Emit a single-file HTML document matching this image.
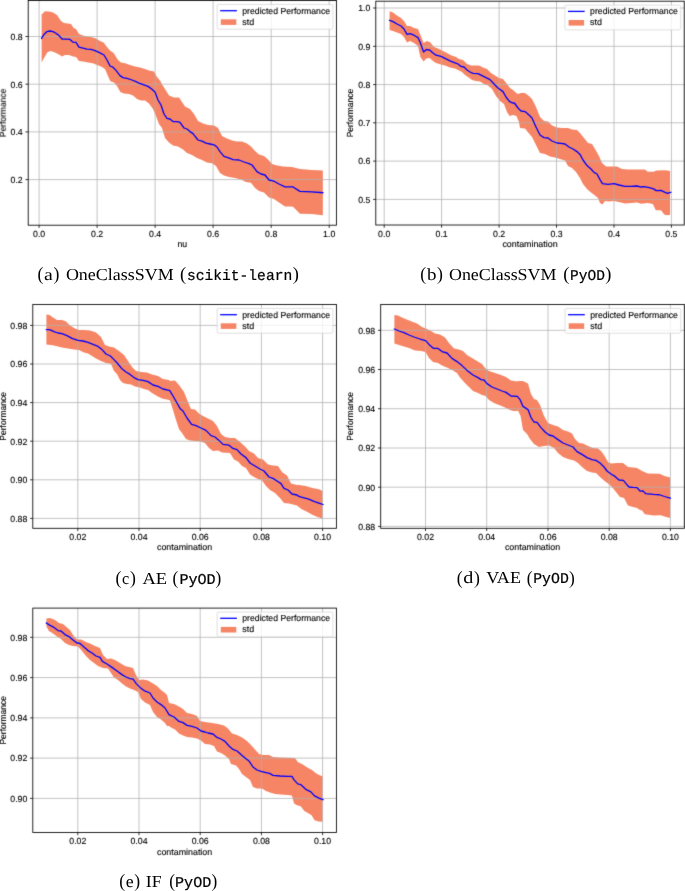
<!DOCTYPE html>
<html><head><meta charset="utf-8"><title>figure</title>
<style>html,body{margin:0;padding:0;background:#fff;}body{width:685px;height:891px;overflow:hidden;}svg{display:block;will-change:transform;}text{fill:#000;text-rendering:geometricPrecision;}.s text{stroke:#000;stroke-width:0.12px;}.c .m{stroke:#000;stroke-width:0.22px;}</style>
</head><body>
<svg width="685" height="891" viewBox="0 0 685 891">
<defs><filter id="bl" x="0" y="0" width="685" height="891" filterUnits="userSpaceOnUse" color-interpolation-filters="sRGB"><feConvolveMatrix order="3" kernelMatrix="0.01134 0.08382 0.01134 0.08382 0.61935 0.08382 0.01134 0.08382 0.01134" divisor="1" edgeMode="duplicate" preserveAlpha="true"/></filter></defs>
<g filter="url(#bl)">
<rect x="0" y="0" width="685" height="891" fill="#fff"/>
<g id="panel-a" class="s">
<path d="M41.6 14.4L45 11.2L49 11.6L53 12.4L57 15L61 21L64 23L68 23.4L71 24L73.6 28L76 29L79 34L83 35.6L87 36.4L92 37.2L96 38.4L100 41L103.6 42.4L107 47L110 50.4L113.6 53L118 60L121 62.4L126 63.6L130 65L135 66.6L140 67.6L145 69L149 70.4L154 71.4L157 77L160 80.4L162.4 85L165 89L169 95.6L174 97.6L179 97.6L182 102L185 106.4L190 109L194 114L198 121L203 123.6L208 125L214 125.6L218 128L222 136L227 138.4L232 140.4L237 141.6L242 141.6L247 143.6L251 146.4L255 151L259 154.4L264 156L268 159.6L272 164L277 165.6L283 166.4L292 167L299.93 169.05L311.61 169.93L322.85 170.51L322.85 215.18L311.61 214.01L299.93 213.72L293.36 207.01L292 206.4L285 206.4L279 202.4L274 199L269 197.6L264 192.4L259 191L255 188L251 182.8L246 182L241 179.6L235 178L229 177L224 175.6L220 173L216 166L212 163.2L207 162.4L202 160L197 158L192 155L187 153L183 149.6L178 146.6L173 145.6L169 142.4L165 138L162 128L159 124L156 116L153 109L149 103.6L145 100.4L141 100.4L137 99L133 95.6L129 94L124 93.4L120.4 92L117 86L114 82.4L110.4 81.2L108 76L105 69L101 66.6L97 65L93 63.2L88 62.4L83 61.6L79 61L76 57L73 56.4L69 55L65 55L62 56.4L59 54.4L55 52.4L51 51L47.6 52L44 58L41.6 62.4Z" fill="#f58565" stroke="none"/>
<path d="M39.1 0.5V225.2M97.1 0.5V225.2M155.1 0.5V225.2M213.1 0.5V225.2M271.2 0.5V225.2M329.2 0.5V225.2M28.2 36.5H336.4M28.2 84.2H336.4M28.2 131.9H336.4M28.2 179.6H336.4" stroke="#b0b0b0" stroke-width="0.75" fill="none"/>
<path d="M41.6 38.4L44 34.4L47 31.6L50 31L53 31.6L56 33.2L59 35.6L62 39L66 39.2L70 39.4L73 42.2L76 42.4L79 47.2L83 48.2L87 49.2L91 49.4L95 50.6L99 52.4L104 55L107 60L110 66L113 67.2L116 70.4L120 75.6L123 77.6L127 78.4L132 80L136 81.6L139 83.2L144 84.8L148 86.4L152 89.2L155 92L158 100L161 105L164 114L167 118.4L170 119L173 121.6L177 121.6L180 122.4L184 128L187 129L190 131.6L193 133.6L198 140L202 141.2L206 143.2L210 144L214 144.8L217 147L220 151.6L224 156.4L228 157.6L233 159.6L239 160L244 162L249 163.6L252 165L257 171.6L261 174L265 175L269 180L274 181.2L279 184L285 186.8L292 186.8L292.64 186.72L299.93 191.39L311.61 191.82L322.85 192.7" fill="none" stroke="#0000ff" stroke-width="1.3" stroke-linejoin="round" stroke-linecap="square"/>
<path d="M39.1 225.2v2.7M97.1 225.2v2.7M155.1 225.2v2.7M213.1 225.2v2.7M271.2 225.2v2.7M329.2 225.2v2.7M28.2 36.5h-2.7M28.2 84.2h-2.7M28.2 131.9h-2.7M28.2 179.6h-2.7" stroke="#000" stroke-width="0.8" fill="none"/>
<rect x="28.2" y="0.5" width="308.2" height="224.7" fill="none" stroke="#000" stroke-width="0.85"/>
<text x="39.1" y="236.8" font-size="8.8" font-family='"Liberation Sans", sans-serif' text-anchor="middle" textLength="12.16" lengthAdjust="spacingAndGlyphs">0.0</text>
<text x="97.1" y="236.8" font-size="8.8" font-family='"Liberation Sans", sans-serif' text-anchor="middle" textLength="12.16" lengthAdjust="spacingAndGlyphs">0.2</text>
<text x="155.1" y="236.8" font-size="8.8" font-family='"Liberation Sans", sans-serif' text-anchor="middle" textLength="12.16" lengthAdjust="spacingAndGlyphs">0.4</text>
<text x="213.1" y="236.8" font-size="8.8" font-family='"Liberation Sans", sans-serif' text-anchor="middle" textLength="12.16" lengthAdjust="spacingAndGlyphs">0.6</text>
<text x="271.2" y="236.8" font-size="8.8" font-family='"Liberation Sans", sans-serif' text-anchor="middle" textLength="12.16" lengthAdjust="spacingAndGlyphs">0.8</text>
<text x="329.2" y="236.8" font-size="8.8" font-family='"Liberation Sans", sans-serif' text-anchor="middle" textLength="12.16" lengthAdjust="spacingAndGlyphs">1.0</text>
<text x="22.7" y="39.8" font-size="8.8" font-family='"Liberation Sans", sans-serif' text-anchor="end" textLength="12.16" lengthAdjust="spacingAndGlyphs">0.8</text>
<text x="22.7" y="87.5" font-size="8.8" font-family='"Liberation Sans", sans-serif' text-anchor="end" textLength="12.16" lengthAdjust="spacingAndGlyphs">0.6</text>
<text x="22.7" y="135.2" font-size="8.8" font-family='"Liberation Sans", sans-serif' text-anchor="end" textLength="12.16" lengthAdjust="spacingAndGlyphs">0.4</text>
<text x="22.7" y="182.9" font-size="8.8" font-family='"Liberation Sans", sans-serif' text-anchor="end" textLength="12.16" lengthAdjust="spacingAndGlyphs">0.2</text>
<text x="182.3" y="247.3" font-size="8.8" font-family='"Liberation Sans", sans-serif' text-anchor="middle" textLength="9.7" lengthAdjust="spacingAndGlyphs">nu</text>
<text transform="translate(5.8 112.85) rotate(-90)" font-size="8.8" font-family='"Liberation Sans", sans-serif' text-anchor="middle" textLength="48.48" lengthAdjust="spacingAndGlyphs">Performance</text>
<rect x="217.1" y="4.4" width="115.8" height="24.8" rx="1.6" ry="1.6" fill="#fff" fill-opacity="0.8" stroke="#ccc" stroke-opacity="0.8" stroke-width="0.8"/>
<path d="M220.2 10.7h16.7" stroke="#0000ff" stroke-width="1.3" fill="none"/>
<rect x="220.8" y="19.3" width="15.5" height="5.6" fill="#f58565"/>
<text x="242.3" y="13.7" font-size="8.8" font-family='"Liberation Sans", sans-serif' text-anchor="start" textLength="87.77" lengthAdjust="spacingAndGlyphs">predicted Performance</text>
<text x="242.3" y="24.6" font-size="8.8" font-family='"Liberation Sans", sans-serif' text-anchor="start" textLength="11.92" lengthAdjust="spacingAndGlyphs">std</text>
</g>
<g id="panel-b" class="s">
<path d="M389.6 11.2L393 12.4L397 15.6L401 18L404 21L407 26L410 26L414 28L418 29L420.4 35L423.6 43L427 41L430.4 42.4L434 47L438 48.4L442 50.4L446 52.4L451 55.2L456 57L459 59L463 60L467 64L471 65.6L475 65.6L479 65.6L483 67.6L487 69L491 73L495 75.6L499 78L503 79L507 84L510 88L513 90L514 91L517.6 94L521 93L525 93L529 96L532 99L536 107L540 117L544 121L548 121.4L552 125.6L557 127.6L562 128L568 128L572 129.6L577 130L580 133L584 138L588 143L592 144L595.6 150L599 156L602 163L606 166.4L612 166.4L617 166.4L622 169L628 169.6L637 169.6L644.85 169.49L647.77 171.68L653.61 171.68L656.53 170.51L665.29 170.22L670.11 170.95L670.11 214.74L667.48 215.18L664.56 214.74L660.91 210.36L655.8 210.36L652.88 204.09L647.77 203.07L641.2 203.8L637 202.4L631 203L625 203.6L619 202L614 201L609 201.6L605 201L602.4 204.4L600 203L598 198L595 195.6L591 192.4L587 189L583 184L580 178L576 172L572 168L568 166L565 160.4L560 159L555 157.6L550 156.4L545 154L540 153L536 145L532 137L529 133.6L525 128.4L520 128L519 122L516.4 116L513 115L509.6 116L507 112L504 104L500 101L496 96L492 89L488 85.6L484 84L480 81.6L476 81L472 80L468 77L465 75L462 72L458 70L455 68.4L450 67.6L445 65.6L441 64.4L436 63L433 61L429.6 58L426.4 58.4L423.6 61.6L420.4 57L418 46L414 43L410 41L407 42.4L404 37L401 34L397 32.4L393 31L389.6 30Z" fill="#f58565" stroke="none"/>
<path d="M384.2 1.2V225M441.6 1.2V225M499.1 1.2V225M556.5 1.2V225M614 1.2V225M671.4 1.2V225M375.8 8H684.2M375.8 46.3H684.2M375.8 84.6H684.2M375.8 122.8H684.2M375.8 161.1H684.2M375.8 199.4H684.2" stroke="#b0b0b0" stroke-width="0.75" fill="none"/>
<path d="M389.6 20.4L393 21.6L397 24L401 26L404 29L407 34.4L410 33.6L414 35.2L418 37.6L420.4 43L423.6 52L426.4 49.6L429.6 50L433 53L436 55.2L441 56.4L445 58.4L450 60.8L455 62.8L458 64L461 66.4L464 67L467 70L470 72L473 73.4L478 73.6L482 75.6L486 77.6L490 79.6L494 84L498 88L503 91.6L506 97L509.6 101.6L513 103.2L514.4 103L518 108L521 111L525 111.6L529 115L532 118L536 127L540 135L544 137.6L548 138L552 141L557 143L561 143.4L565 144L569 147L573 149L577 151.6L580 154.4L583 160L587 165.6L591 169L594 172.4L597 174L600 179.6L602.4 183.6L608 184.4L614 183.6L619 185L625 186.4L631 186.4L637 186L641.2 187.01L644.12 186.57L649.23 187.74L653.61 188.91L656.24 190.66L660.91 190.36L664.56 192.12L667.48 193.28L670.69 192.41" fill="none" stroke="#0000ff" stroke-width="1.3" stroke-linejoin="round" stroke-linecap="square"/>
<path d="M384.2 225v2.7M441.6 225v2.7M499.1 225v2.7M556.5 225v2.7M614 225v2.7M671.4 225v2.7M375.8 8h-2.7M375.8 46.3h-2.7M375.8 84.6h-2.7M375.8 122.8h-2.7M375.8 161.1h-2.7M375.8 199.4h-2.7" stroke="#000" stroke-width="0.8" fill="none"/>
<rect x="375.8" y="1.2" width="308.4" height="223.8" fill="none" stroke="#000" stroke-width="0.85"/>
<text x="384.2" y="236.6" font-size="8.8" font-family='"Liberation Sans", sans-serif' text-anchor="middle" textLength="12.16" lengthAdjust="spacingAndGlyphs">0.0</text>
<text x="441.6" y="236.6" font-size="8.8" font-family='"Liberation Sans", sans-serif' text-anchor="middle" textLength="12.16" lengthAdjust="spacingAndGlyphs">0.1</text>
<text x="499.1" y="236.6" font-size="8.8" font-family='"Liberation Sans", sans-serif' text-anchor="middle" textLength="12.16" lengthAdjust="spacingAndGlyphs">0.2</text>
<text x="556.5" y="236.6" font-size="8.8" font-family='"Liberation Sans", sans-serif' text-anchor="middle" textLength="12.16" lengthAdjust="spacingAndGlyphs">0.3</text>
<text x="614" y="236.6" font-size="8.8" font-family='"Liberation Sans", sans-serif' text-anchor="middle" textLength="12.16" lengthAdjust="spacingAndGlyphs">0.4</text>
<text x="671.4" y="236.6" font-size="8.8" font-family='"Liberation Sans", sans-serif' text-anchor="middle" textLength="12.16" lengthAdjust="spacingAndGlyphs">0.5</text>
<text x="370.3" y="11.3" font-size="8.8" font-family='"Liberation Sans", sans-serif' text-anchor="end" textLength="12.16" lengthAdjust="spacingAndGlyphs">1.0</text>
<text x="370.3" y="49.6" font-size="8.8" font-family='"Liberation Sans", sans-serif' text-anchor="end" textLength="12.16" lengthAdjust="spacingAndGlyphs">0.9</text>
<text x="370.3" y="87.9" font-size="8.8" font-family='"Liberation Sans", sans-serif' text-anchor="end" textLength="12.16" lengthAdjust="spacingAndGlyphs">0.8</text>
<text x="370.3" y="126.1" font-size="8.8" font-family='"Liberation Sans", sans-serif' text-anchor="end" textLength="12.16" lengthAdjust="spacingAndGlyphs">0.7</text>
<text x="370.3" y="164.4" font-size="8.8" font-family='"Liberation Sans", sans-serif' text-anchor="end" textLength="12.16" lengthAdjust="spacingAndGlyphs">0.6</text>
<text x="370.3" y="202.7" font-size="8.8" font-family='"Liberation Sans", sans-serif' text-anchor="end" textLength="12.16" lengthAdjust="spacingAndGlyphs">0.5</text>
<text x="530" y="247.1" font-size="8.8" font-family='"Liberation Sans", sans-serif' text-anchor="middle" textLength="55.19" lengthAdjust="spacingAndGlyphs">contamination</text>
<text transform="translate(353.4 113.1) rotate(-90)" font-size="8.8" font-family='"Liberation Sans", sans-serif' text-anchor="middle" textLength="48.48" lengthAdjust="spacingAndGlyphs">Performance</text>
<rect x="564.9" y="5.1" width="115.8" height="24.8" rx="1.6" ry="1.6" fill="#fff" fill-opacity="0.8" stroke="#ccc" stroke-opacity="0.8" stroke-width="0.8"/>
<path d="M568 11.4h16.7" stroke="#0000ff" stroke-width="1.3" fill="none"/>
<rect x="568.6" y="20" width="15.5" height="5.6" fill="#f58565"/>
<text x="590.1" y="14.4" font-size="8.8" font-family='"Liberation Sans", sans-serif' text-anchor="start" textLength="87.77" lengthAdjust="spacingAndGlyphs">predicted Performance</text>
<text x="590.1" y="25.3" font-size="8.8" font-family='"Liberation Sans", sans-serif' text-anchor="start" textLength="11.92" lengthAdjust="spacingAndGlyphs">std</text>
</g>
<g id="panel-c" class="s">
<path d="M46.4 314.4L49.6 315L53 317.6L57 320L62 320L66 321.6L70 325.6L75 328.4L79 330L84 330L90 330.6L96 332.4L101 337L105 345L109 346.4L114 347.6L119 351L124 355L128 361L132 367L136 371L141 372L147 372.4L152 374.4L158 376L163 379L169 380L170 381L175 380.4L179 385L184 392L188 402L191 409L195 409.6L199 413.6L203 416L208 418.4L213 421L217 426L221 434L225 437L230 438L235 438L240 442L245 446.4L249 451L254 453.6L258 458L263 459.6L268 464.4L273 465.6L278 466L282 472L287 475.6L291 483.6L297 485L299.2 485.11L305.77 485.99L312.34 488.03L318.91 489.2L322.56 490.95L322.56 518.39L317.45 516.93L312.34 514.74L306.5 511.39L301.39 508.91L297 505.6L293 504.4L289 503.6L284 503L280 498L275 493L270 490L266 486L262 480.4L258 479L254 477L250 474.4L246 468L242 466L238 461.6L234 459.6L230 453L222 452.4L218 450.4L213 451L209 448L205 443L200 441.6L195 441L190 440.4L186 439L182 433L179 429L176 420L173 410L170 400.4L169 400L162 398.4L157 396L152 393L148 390L144 389L140 387.6L135 386.4L131 384.4L127 384L123 383L120 380L117 374L114 371L111 364L106 363L101 361L96 358.4L92 356L88 353.6L84 352.4L79 350L74 349.6L68 348.4L62 347.6L56 346L51 345L46.4 344.4Z" fill="#f58565" stroke="none"/>
<path d="M77.8 304.5V528.3M139 304.5V528.3M200.2 304.5V528.3M261.4 304.5V528.3M322.6 304.5V528.3M32.8 325.4H336.4M32.8 364H336.4M32.8 402.6H336.4M32.8 441.2H336.4M32.8 479.8H336.4M32.8 518.4H336.4" stroke="#b0b0b0" stroke-width="0.75" fill="none"/>
<path d="M46.4 329.6L49.6 329.6L54 331.6L58 333L62 333.6L67 335.6L72 338.4L78 340.4L83 341L88 342.4L93 344.4L98 346.4L102 349.6L106 354L110.4 356L114 359.6L118 364L121.6 368.4L126 372L130 374.4L134 377.6L138 379.6L143 380.4L148 381.6L153 385L158 386.4L163 389L169 390.4L169.6 390.4L173 396L177 403L180 408.4L183 411L187 418L191.6 424.4L196 425.6L201 428L206 430.4L211 435.6L215 437L219 440.4L223 444.4L229 445.2L233 448.4L237 449.6L241 454L246 457.6L250 463L255 466L260 469L264 471L269 477L273 478.4L277 481L281 483.6L284 488.4L288 490L292 494L297 495L298.47 496.2L301.39 497.23L308.69 499.12L314.53 501.61L318.91 503.07L323 504.53" fill="none" stroke="#0000ff" stroke-width="1.3" stroke-linejoin="round" stroke-linecap="square"/>
<path d="M77.8 528.3v2.7M139 528.3v2.7M200.2 528.3v2.7M261.4 528.3v2.7M322.6 528.3v2.7M32.8 325.4h-2.7M32.8 364h-2.7M32.8 402.6h-2.7M32.8 441.2h-2.7M32.8 479.8h-2.7M32.8 518.4h-2.7" stroke="#000" stroke-width="0.8" fill="none"/>
<rect x="32.8" y="304.5" width="303.6" height="223.8" fill="none" stroke="#000" stroke-width="0.85"/>
<text x="77.8" y="539.9" font-size="8.8" font-family='"Liberation Sans", sans-serif' text-anchor="middle" textLength="17.03" lengthAdjust="spacingAndGlyphs">0.02</text>
<text x="139" y="539.9" font-size="8.8" font-family='"Liberation Sans", sans-serif' text-anchor="middle" textLength="17.03" lengthAdjust="spacingAndGlyphs">0.04</text>
<text x="200.2" y="539.9" font-size="8.8" font-family='"Liberation Sans", sans-serif' text-anchor="middle" textLength="17.03" lengthAdjust="spacingAndGlyphs">0.06</text>
<text x="261.4" y="539.9" font-size="8.8" font-family='"Liberation Sans", sans-serif' text-anchor="middle" textLength="17.03" lengthAdjust="spacingAndGlyphs">0.08</text>
<text x="322.6" y="539.9" font-size="8.8" font-family='"Liberation Sans", sans-serif' text-anchor="middle" textLength="17.03" lengthAdjust="spacingAndGlyphs">0.10</text>
<text x="27.3" y="328.7" font-size="8.8" font-family='"Liberation Sans", sans-serif' text-anchor="end" textLength="17.03" lengthAdjust="spacingAndGlyphs">0.98</text>
<text x="27.3" y="367.3" font-size="8.8" font-family='"Liberation Sans", sans-serif' text-anchor="end" textLength="17.03" lengthAdjust="spacingAndGlyphs">0.96</text>
<text x="27.3" y="405.9" font-size="8.8" font-family='"Liberation Sans", sans-serif' text-anchor="end" textLength="17.03" lengthAdjust="spacingAndGlyphs">0.94</text>
<text x="27.3" y="444.5" font-size="8.8" font-family='"Liberation Sans", sans-serif' text-anchor="end" textLength="17.03" lengthAdjust="spacingAndGlyphs">0.92</text>
<text x="27.3" y="483.1" font-size="8.8" font-family='"Liberation Sans", sans-serif' text-anchor="end" textLength="17.03" lengthAdjust="spacingAndGlyphs">0.90</text>
<text x="27.3" y="521.7" font-size="8.8" font-family='"Liberation Sans", sans-serif' text-anchor="end" textLength="17.03" lengthAdjust="spacingAndGlyphs">0.88</text>
<text x="184.6" y="550.4" font-size="8.8" font-family='"Liberation Sans", sans-serif' text-anchor="middle" textLength="55.19" lengthAdjust="spacingAndGlyphs">contamination</text>
<text transform="translate(5.5 416.4) rotate(-90)" font-size="8.8" font-family='"Liberation Sans", sans-serif' text-anchor="middle" textLength="48.48" lengthAdjust="spacingAndGlyphs">Performance</text>
<rect x="217.1" y="308.4" width="115.8" height="24.8" rx="1.6" ry="1.6" fill="#fff" fill-opacity="0.8" stroke="#ccc" stroke-opacity="0.8" stroke-width="0.8"/>
<path d="M220.2 314.7h16.7" stroke="#0000ff" stroke-width="1.3" fill="none"/>
<rect x="220.8" y="323.3" width="15.5" height="5.6" fill="#f58565"/>
<text x="242.3" y="317.7" font-size="8.8" font-family='"Liberation Sans", sans-serif' text-anchor="start" textLength="87.77" lengthAdjust="spacingAndGlyphs">predicted Performance</text>
<text x="242.3" y="328.6" font-size="8.8" font-family='"Liberation Sans", sans-serif' text-anchor="start" textLength="11.92" lengthAdjust="spacingAndGlyphs">std</text>
</g>
<g id="panel-d" class="s">
<path d="M394.4 315L398 315.6L403 318L408 320L413 322L417 323.6L422 327L427 329L431 331L435 333.6L440 334.4L445 337.6L449 343L454 348.4L459 349.6L463 351L467 355L472 358L477 361L482 364L485 368L489 371L495 373L501 375L506 377L511 380.4L517 381.6L518 381L523 381L528 383.6L531 394L534 399L537 400L540 405L544 416L548 423L553 425L558 426.4L563 430L568 431.6L572 433.6L575 439L579 443L583 443.6L588 446L593 448L598 448.4L601 451L604 455L608 462L611 463.6L617 463L623 463L628 467L633 467.6L637 468L642 471L647.77 473.43L659.45 473.87L664.56 476.06L670.11 477.52L670.11 518.1L665.29 516.64L660.91 515.18L653.61 515.47L644.85 514.31L642 510.4L640 510L637 508L633 507L628 505.6L624 498L620 497L616 492L612 487L608 483.6L604 480.4L600 477L596 473L592 472.4L587 471L582 467L578 463L574 460.4L568 459L563 457L558 453L554 448L549 445.6L544 446L539 447L534 444L530 439L527 434L523 430L520.6 416L518 410.4L517 411L513 411L509 409.6L504 407L499 405L494 403L489 400L485.6 396L482 395L478 393L473 391L469 387L464 382L460 377.6L457 373L453 370.4L448 368L442 365.6L438 363L433 362L429 358L425.6 352L421 351L415 350.4L409 348L404 346.4L399 345L394.4 343.6Z" fill="#f58565" stroke="none"/>
<path d="M425.5 304.5V528.3M486.7 304.5V528.3M548 304.5V528.3M609.2 304.5V528.3M670.4 304.5V528.3M380.7 330.3H684.3M380.7 369.5H684.3M380.7 408.7H684.3M380.7 448H684.3M380.7 487.2H684.3M380.7 526.4H684.3" stroke="#b0b0b0" stroke-width="0.75" fill="none"/>
<path d="M394.4 329L399 331L404 332.6L409 335L414 337L420 339L425.6 340.6L429 344.4L433.6 348.4L438 348.4L442 351.6L447 353L452 358.4L457 361.6L462 365.6L467 370.4L473 375L478 377.6L481 379.6L484 380L487 383.6L492 387L497 389L502 391L506 392.4L511 396L517.4 396.4L520 399.6L523 406.4L528 409.6L531 417.6L534 422L537 422.4L541 427.6L545 432L549 435L553 436L558 439.6L563 443L568 445L573 447L577 451.6L582 454.4L587 457.6L592 459.6L596 460.4L600 463L604 467L607 471L611 474L615 476.4L619 480L623.4 480.4L626 483.6L629 487L633 487.4L637 487.6L640 491L642 491.2L642.66 490.66L645.58 493.58L653.61 494.45L659.45 494.74L664.56 496.5L670.4 498.25" fill="none" stroke="#0000ff" stroke-width="1.3" stroke-linejoin="round" stroke-linecap="square"/>
<path d="M425.5 528.3v2.7M486.7 528.3v2.7M548 528.3v2.7M609.2 528.3v2.7M670.4 528.3v2.7M380.7 330.3h-2.7M380.7 369.5h-2.7M380.7 408.7h-2.7M380.7 448h-2.7M380.7 487.2h-2.7M380.7 526.4h-2.7" stroke="#000" stroke-width="0.8" fill="none"/>
<rect x="380.7" y="304.5" width="303.6" height="223.8" fill="none" stroke="#000" stroke-width="0.85"/>
<text x="425.5" y="539.9" font-size="8.8" font-family='"Liberation Sans", sans-serif' text-anchor="middle" textLength="17.03" lengthAdjust="spacingAndGlyphs">0.02</text>
<text x="486.7" y="539.9" font-size="8.8" font-family='"Liberation Sans", sans-serif' text-anchor="middle" textLength="17.03" lengthAdjust="spacingAndGlyphs">0.04</text>
<text x="548" y="539.9" font-size="8.8" font-family='"Liberation Sans", sans-serif' text-anchor="middle" textLength="17.03" lengthAdjust="spacingAndGlyphs">0.06</text>
<text x="609.2" y="539.9" font-size="8.8" font-family='"Liberation Sans", sans-serif' text-anchor="middle" textLength="17.03" lengthAdjust="spacingAndGlyphs">0.08</text>
<text x="670.4" y="539.9" font-size="8.8" font-family='"Liberation Sans", sans-serif' text-anchor="middle" textLength="17.03" lengthAdjust="spacingAndGlyphs">0.10</text>
<text x="375.2" y="333.6" font-size="8.8" font-family='"Liberation Sans", sans-serif' text-anchor="end" textLength="17.03" lengthAdjust="spacingAndGlyphs">0.98</text>
<text x="375.2" y="372.8" font-size="8.8" font-family='"Liberation Sans", sans-serif' text-anchor="end" textLength="17.03" lengthAdjust="spacingAndGlyphs">0.96</text>
<text x="375.2" y="412" font-size="8.8" font-family='"Liberation Sans", sans-serif' text-anchor="end" textLength="17.03" lengthAdjust="spacingAndGlyphs">0.94</text>
<text x="375.2" y="451.3" font-size="8.8" font-family='"Liberation Sans", sans-serif' text-anchor="end" textLength="17.03" lengthAdjust="spacingAndGlyphs">0.92</text>
<text x="375.2" y="490.5" font-size="8.8" font-family='"Liberation Sans", sans-serif' text-anchor="end" textLength="17.03" lengthAdjust="spacingAndGlyphs">0.90</text>
<text x="375.2" y="529.7" font-size="8.8" font-family='"Liberation Sans", sans-serif' text-anchor="end" textLength="17.03" lengthAdjust="spacingAndGlyphs">0.88</text>
<text x="532.5" y="550.4" font-size="8.8" font-family='"Liberation Sans", sans-serif' text-anchor="middle" textLength="55.19" lengthAdjust="spacingAndGlyphs">contamination</text>
<text transform="translate(353.4 416.4) rotate(-90)" font-size="8.8" font-family='"Liberation Sans", sans-serif' text-anchor="middle" textLength="48.48" lengthAdjust="spacingAndGlyphs">Performance</text>
<rect x="565" y="308.4" width="115.8" height="24.8" rx="1.6" ry="1.6" fill="#fff" fill-opacity="0.8" stroke="#ccc" stroke-opacity="0.8" stroke-width="0.8"/>
<path d="M568.1 314.7h16.7" stroke="#0000ff" stroke-width="1.3" fill="none"/>
<rect x="568.7" y="323.3" width="15.5" height="5.6" fill="#f58565"/>
<text x="590.2" y="317.7" font-size="8.8" font-family='"Liberation Sans", sans-serif' text-anchor="start" textLength="87.77" lengthAdjust="spacingAndGlyphs">predicted Performance</text>
<text x="590.2" y="328.6" font-size="8.8" font-family='"Liberation Sans", sans-serif' text-anchor="start" textLength="11.92" lengthAdjust="spacingAndGlyphs">std</text>
</g>
<g id="panel-e" class="s">
<path d="M46.4 618.6L50 618L55 620L59 623L63 624L67 627.4L70 630L73 635L77 639.4L81 639.4L86 642L91 644L95 646L100 648L103 655L107 659L111 658.6L115 660L120 663L125 666L129 667L133 668L136 675L139 680L143 679.4L148 680.6L153 683.4L157 686L161 690L165 693L167 695L169 703L174 704L179 706.6L183 709L187 713L192 714L197 716L200 721L205 722L212 723L218 724L224 725.4L228 728.6L232 733.4L237 735L242 737.4L247 741L251 745L255 749.4L259 754L263 755L269 755L273 757L280 757.4L288 757.8L294 758L295.55 758.69L297.74 762.04L302.85 764.53L307.23 767.45L311.61 769.64L315.99 773.28L319.64 775.18L322.56 776.2L322.56 821.82L318.91 821.39L314.53 820.36L311.61 815.26L307.96 813.07L304.31 810.88L300.66 806.2L297.01 805.33L294.09 803.58L291.91 795.55L287 795L281 794.6L275 794L270 792.6L266 791L262 788.6L257 788.6L253 787L250 780L246 777L242 774L239 769L236 765.4L231 764L229 759L225 755.4L221 753L217 751.4L214 746L210 744.6L205 744L201 740.6L197 738.6L192 737.4L187 737L183 735.4L179 733.4L175 729.4L171 727.4L169 726L167 726L165 723L161 719.4L157 717L153 712L150 705L145 702.6L141 699L138 692L134 690L130 688.6L126 686.6L122 683.4L118 680L114 677.4L111 673L108 668.6L103 668L98 666L94 663L90 660L86 656L82 651L78 646.6L73 646L69 645L65 643L61 639L57 636.6L53 633.4L49 631L46.4 626.6Z" fill="#f58565" stroke="none"/>
<path d="M77.8 608.1V832.5M139 608.1V832.5M200.2 608.1V832.5M261.4 608.1V832.5M322.6 608.1V832.5M32.8 637.3H336.4M32.8 677.6H336.4M32.8 717.9H336.4M32.8 758.1H336.4M32.8 798.4H336.4" stroke="#b0b0b0" stroke-width="0.75" fill="none"/>
<path d="M46.4 623L50 625.4L54 627.4L58 630.6L61 631L65 634.6L69 636.6L73 640L77 643L80 643.4L84 647L88 650.6L92 653L96 656L100 657.4L102.4 661.4L107 664L112 667.4L117 671L122 674.6L126 677L130 678.6L133 679L136 683.4L140 687.4L144 690.6L150 693L153 698L157 702L161 704.6L165 708L169 714.6L174 717L179 721.4L183 722.6L187 725.4L192 726.4L197 728L201 731L205 732L208 733L213 734L217 737.4L221 739L225 741.4L229 746L233 749.4L237 751L241 754.6L245 758L249 761L253 767L257 770L261 771.4L266 772.6L269.6 773.4L273 775.4L280 776L287 776.4L291.91 776.35L294.09 779.85L297.74 783.94L300.66 784.53L305.77 789.34L310.88 791.82L314.53 795.91L318.91 798.1L323 799.56" fill="none" stroke="#0000ff" stroke-width="1.3" stroke-linejoin="round" stroke-linecap="square"/>
<path d="M77.8 832.5v2.7M139 832.5v2.7M200.2 832.5v2.7M261.4 832.5v2.7M322.6 832.5v2.7M32.8 637.3h-2.7M32.8 677.6h-2.7M32.8 717.9h-2.7M32.8 758.1h-2.7M32.8 798.4h-2.7" stroke="#000" stroke-width="0.8" fill="none"/>
<rect x="32.8" y="608.1" width="303.6" height="224.4" fill="none" stroke="#000" stroke-width="0.85"/>
<text x="77.8" y="844.1" font-size="8.8" font-family='"Liberation Sans", sans-serif' text-anchor="middle" textLength="17.03" lengthAdjust="spacingAndGlyphs">0.02</text>
<text x="139" y="844.1" font-size="8.8" font-family='"Liberation Sans", sans-serif' text-anchor="middle" textLength="17.03" lengthAdjust="spacingAndGlyphs">0.04</text>
<text x="200.2" y="844.1" font-size="8.8" font-family='"Liberation Sans", sans-serif' text-anchor="middle" textLength="17.03" lengthAdjust="spacingAndGlyphs">0.06</text>
<text x="261.4" y="844.1" font-size="8.8" font-family='"Liberation Sans", sans-serif' text-anchor="middle" textLength="17.03" lengthAdjust="spacingAndGlyphs">0.08</text>
<text x="322.6" y="844.1" font-size="8.8" font-family='"Liberation Sans", sans-serif' text-anchor="middle" textLength="17.03" lengthAdjust="spacingAndGlyphs">0.10</text>
<text x="27.3" y="640.6" font-size="8.8" font-family='"Liberation Sans", sans-serif' text-anchor="end" textLength="17.03" lengthAdjust="spacingAndGlyphs">0.98</text>
<text x="27.3" y="680.9" font-size="8.8" font-family='"Liberation Sans", sans-serif' text-anchor="end" textLength="17.03" lengthAdjust="spacingAndGlyphs">0.96</text>
<text x="27.3" y="721.2" font-size="8.8" font-family='"Liberation Sans", sans-serif' text-anchor="end" textLength="17.03" lengthAdjust="spacingAndGlyphs">0.94</text>
<text x="27.3" y="761.4" font-size="8.8" font-family='"Liberation Sans", sans-serif' text-anchor="end" textLength="17.03" lengthAdjust="spacingAndGlyphs">0.92</text>
<text x="27.3" y="801.7" font-size="8.8" font-family='"Liberation Sans", sans-serif' text-anchor="end" textLength="17.03" lengthAdjust="spacingAndGlyphs">0.90</text>
<text x="184.6" y="854.6" font-size="8.8" font-family='"Liberation Sans", sans-serif' text-anchor="middle" textLength="55.19" lengthAdjust="spacingAndGlyphs">contamination</text>
<text transform="translate(5.5 720.3) rotate(-90)" font-size="8.8" font-family='"Liberation Sans", sans-serif' text-anchor="middle" textLength="48.48" lengthAdjust="spacingAndGlyphs">Performance</text>
<rect x="217.1" y="612" width="115.8" height="24.8" rx="1.6" ry="1.6" fill="#fff" fill-opacity="0.8" stroke="#ccc" stroke-opacity="0.8" stroke-width="0.8"/>
<path d="M220.2 618.3h16.7" stroke="#0000ff" stroke-width="1.3" fill="none"/>
<rect x="220.8" y="626.9" width="15.5" height="5.6" fill="#f58565"/>
<text x="242.3" y="621.3" font-size="8.8" font-family='"Liberation Sans", sans-serif' text-anchor="start" textLength="87.77" lengthAdjust="spacingAndGlyphs">predicted Performance</text>
<text x="242.3" y="632.2" font-size="8.8" font-family='"Liberation Sans", sans-serif' text-anchor="start" textLength="11.92" lengthAdjust="spacingAndGlyphs">std</text>
</g>
</g>
<g id="captions" class="c">
<text x="37.45" y="280.1" font-size="18.6" font-family='"Liberation Serif", serif' text-anchor="start" textLength="5.89" lengthAdjust="spacingAndGlyphs">(</text>
<text x="44" y="279.5" font-size="16.8" font-family='"Liberation Serif", serif' text-anchor="start" textLength="8.8" lengthAdjust="spacingAndGlyphs">a</text>
<text x="53.39" y="280.1" font-size="18.6" font-family='"Liberation Serif", serif' text-anchor="start" textLength="5.89" lengthAdjust="spacingAndGlyphs">)</text>
<text x="65.9" y="279.5" font-size="16.8" font-family='"Liberation Serif", serif' text-anchor="start" textLength="107.8" lengthAdjust="spacingAndGlyphs">OneClassSVM</text>
<text x="180.11" y="280.1" font-size="18.6" font-family='"Liberation Serif", serif' text-anchor="start" textLength="6.15" lengthAdjust="spacingAndGlyphs">(</text>
<text x="187" y="279.5" font-size="15" font-family='"Liberation Mono", monospace' text-anchor="start" textLength="105.2" lengthAdjust="spacingAndGlyphs" class="m">scikit-learn</text>
<text x="292.66" y="280.1" font-size="18.6" font-family='"Liberation Serif", serif' text-anchor="start" textLength="6.15" lengthAdjust="spacingAndGlyphs">)</text>
<text x="420.35" y="280.4" font-size="18.6" font-family='"Liberation Serif", serif' text-anchor="start" textLength="5.89" lengthAdjust="spacingAndGlyphs">(</text>
<text x="426.9" y="279.8" font-size="16.8" font-family='"Liberation Serif", serif' text-anchor="start" textLength="9.5" lengthAdjust="spacingAndGlyphs">b</text>
<text x="436.99" y="280.4" font-size="18.6" font-family='"Liberation Serif", serif' text-anchor="start" textLength="5.89" lengthAdjust="spacingAndGlyphs">)</text>
<text x="449" y="279.8" font-size="16.8" font-family='"Liberation Serif", serif' text-anchor="start" textLength="107.4" lengthAdjust="spacingAndGlyphs">OneClassSVM</text>
<text x="563.21" y="280.4" font-size="18.6" font-family='"Liberation Serif", serif' text-anchor="start" textLength="6.15" lengthAdjust="spacingAndGlyphs">(</text>
<text x="570.1" y="279.8" font-size="15" font-family='"Liberation Mono", monospace' text-anchor="start" textLength="34.9" lengthAdjust="spacingAndGlyphs" class="m">PyOD</text>
<text x="605.36" y="280.4" font-size="18.6" font-family='"Liberation Serif", serif' text-anchor="start" textLength="6.15" lengthAdjust="spacingAndGlyphs">)</text>
<text x="115.55" y="584.2" font-size="18.6" font-family='"Liberation Serif", serif' text-anchor="start" textLength="5.89" lengthAdjust="spacingAndGlyphs">(</text>
<text x="122.1" y="583.6" font-size="16.8" font-family='"Liberation Serif", serif' text-anchor="start" textLength="7.2" lengthAdjust="spacingAndGlyphs">c</text>
<text x="129.89" y="584.2" font-size="18.6" font-family='"Liberation Serif", serif' text-anchor="start" textLength="5.89" lengthAdjust="spacingAndGlyphs">)</text>
<text x="142.5" y="583.6" font-size="16.8" font-family='"Liberation Serif", serif' text-anchor="start" textLength="24.6" lengthAdjust="spacingAndGlyphs">AE</text>
<text x="172.57" y="584.2" font-size="18.6" font-family='"Liberation Serif", serif' text-anchor="start" textLength="5.76" lengthAdjust="spacingAndGlyphs">(</text>
<text x="179.4" y="583.6" font-size="15" font-family='"Liberation Mono", monospace' text-anchor="start" textLength="36.3" lengthAdjust="spacingAndGlyphs" class="m">PyOD</text>
<text x="215.4" y="584.2" font-size="18.6" font-family='"Liberation Serif", serif' text-anchor="start" textLength="5.76" lengthAdjust="spacingAndGlyphs">)</text>
<text x="456.65" y="584" font-size="18.6" font-family='"Liberation Serif", serif' text-anchor="start" textLength="5.89" lengthAdjust="spacingAndGlyphs">(</text>
<text x="463.2" y="583.4" font-size="16.8" font-family='"Liberation Serif", serif' text-anchor="start" textLength="10.1" lengthAdjust="spacingAndGlyphs">d</text>
<text x="473.89" y="584" font-size="18.6" font-family='"Liberation Serif", serif' text-anchor="start" textLength="5.89" lengthAdjust="spacingAndGlyphs">)</text>
<text x="486.2" y="583.4" font-size="16.8" font-family='"Liberation Serif", serif' text-anchor="start" textLength="34.7" lengthAdjust="spacingAndGlyphs">VAE</text>
<text x="526.77" y="584" font-size="18.6" font-family='"Liberation Serif", serif' text-anchor="start" textLength="5.76" lengthAdjust="spacingAndGlyphs">(</text>
<text x="533.2" y="583.4" font-size="15" font-family='"Liberation Mono", monospace' text-anchor="start" textLength="35.6" lengthAdjust="spacingAndGlyphs" class="m">PyOD</text>
<text x="569" y="584" font-size="18.6" font-family='"Liberation Serif", serif' text-anchor="start" textLength="5.76" lengthAdjust="spacingAndGlyphs">)</text>
<text x="119.25" y="887.3" font-size="18.6" font-family='"Liberation Serif", serif' text-anchor="start" textLength="5.89" lengthAdjust="spacingAndGlyphs">(</text>
<text x="125.8" y="886.7" font-size="16.8" font-family='"Liberation Serif", serif' text-anchor="start" textLength="7.9" lengthAdjust="spacingAndGlyphs">e</text>
<text x="134.29" y="887.3" font-size="18.6" font-family='"Liberation Serif", serif' text-anchor="start" textLength="5.89" lengthAdjust="spacingAndGlyphs">)</text>
<text x="145.8" y="886.7" font-size="16.8" font-family='"Liberation Serif", serif' text-anchor="start" textLength="15.8" lengthAdjust="spacingAndGlyphs">IF</text>
<text x="169.17" y="887.3" font-size="18.6" font-family='"Liberation Serif", serif' text-anchor="start" textLength="5.76" lengthAdjust="spacingAndGlyphs">(</text>
<text x="175" y="886.7" font-size="15" font-family='"Liberation Mono", monospace' text-anchor="start" textLength="36.3" lengthAdjust="spacingAndGlyphs" class="m">PyOD</text>
<text x="211.5" y="887.3" font-size="18.6" font-family='"Liberation Serif", serif' text-anchor="start" textLength="5.76" lengthAdjust="spacingAndGlyphs">)</text>
</g>
</svg>
</body></html>
